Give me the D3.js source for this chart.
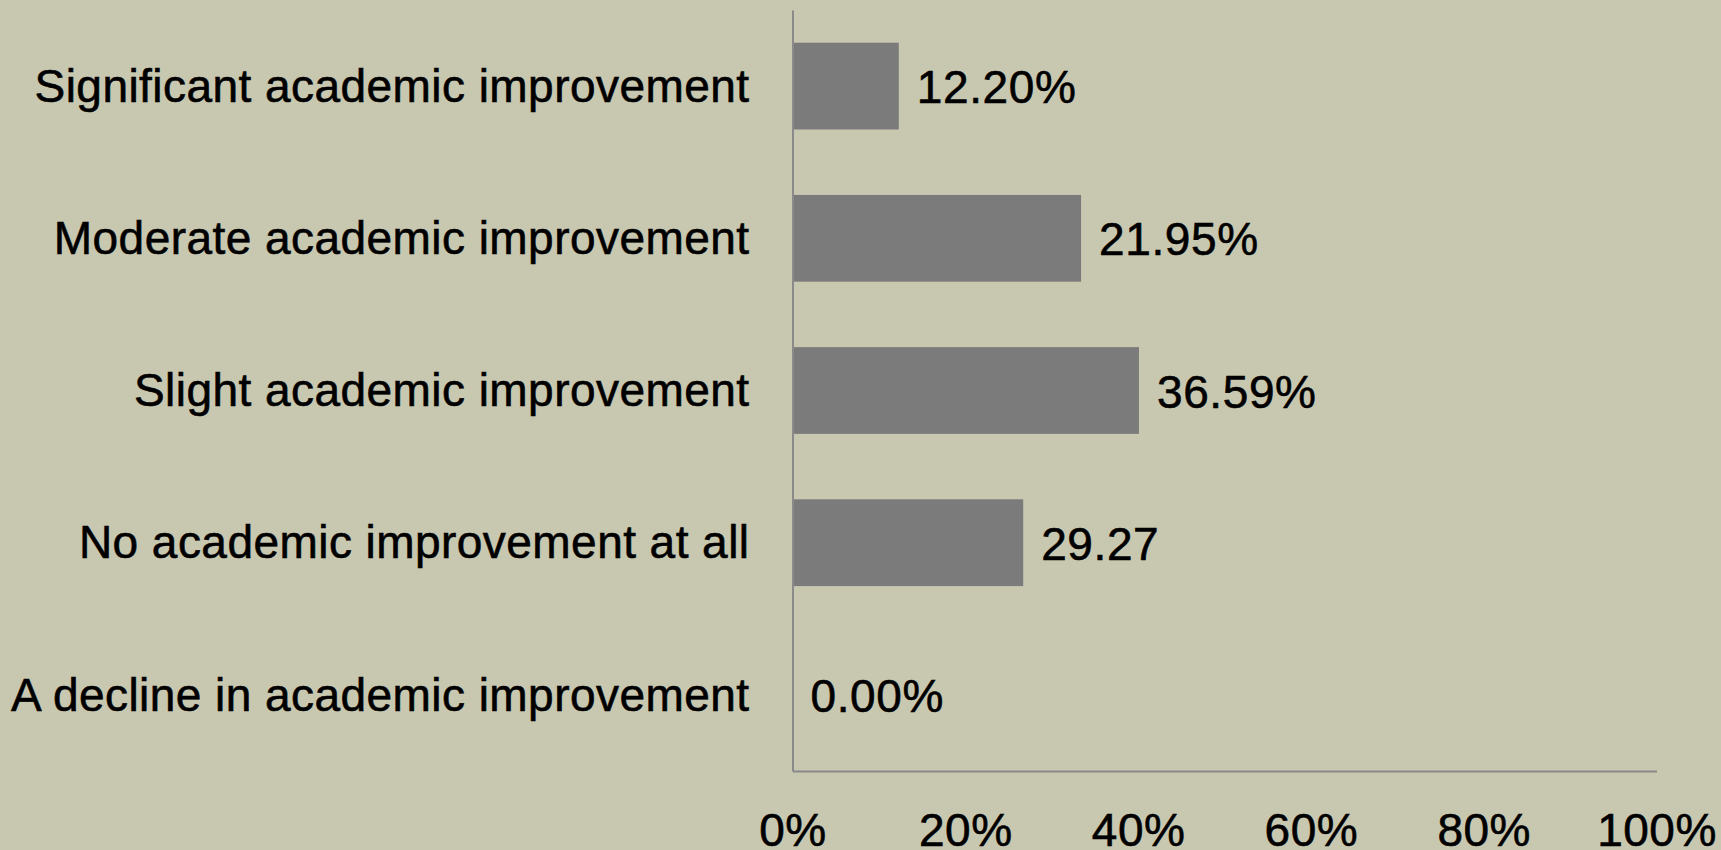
<!DOCTYPE html>
<html>
<head>
<meta charset="utf-8">
<script src="https://cdn.jsdelivr.net/npm/d3@7"></script>
<style>
  body { margin: 0; background: #c8c7b0; overflow: hidden; }
  text { font-family: "Liberation Sans", Arial, sans-serif; fill: #000; stroke: #000; stroke-width: 0.6px; }
</style>
</head>
<body>
<div id="chart"></div>
<script>
// categories, top to bottom
const categories = [
  "Significant academic improvement",
  "Moderate academic improvement",
  "Slight academic improvement",
  "No academic improvement at all",
  "A decline in academic improvement"
];
// bar lengths as drawn in the picture (percent of axis)
const barValues = [12.3, 33.4, 40.1, 26.7, 0];
// labels as printed next to the bars
const valueLabels = ["12.20%", "21.95%", "36.59%", "29.27", "0.00%"];
const xTicks = [0, 20, 40, 60, 80, 100];

const width = 1721, height = 850;

const svg = d3.select("#chart")
  .append("svg")
    .attr("width", width)
    .attr("height", height);

const x = d3.scaleLinear().domain([0, 100]).range([792.5, 1656.5]);
const y = d3.scaleBand().domain(categories).range([10, 771])
  .paddingInner(0.43).paddingOuter(0.215);

// bars
svg.selectAll("rect.bar")
  .data(categories)
  .enter().append("rect")
    .attr("class", "bar")
    .attr("x", x(0) + 1)
    .attr("y", d => y(d))
    .attr("width", (d, i) => Math.max(0, x(barValues[i]) - x(0) - 1))
    .attr("height", y.bandwidth())
    .attr("fill", "#7b7b7b");

// value labels
svg.selectAll("text.val")
  .data(categories)
  .enter().append("text")
    .attr("class", "val")
    .attr("x", (d, i) => x(barValues[i]) + 18)
    .attr("y", d => y(d) + y.bandwidth() / 2 + 17)
    .attr("font-size", "46px")
    .attr("letter-spacing", "0.6px")
    .text((d, i) => valueLabels[i]);

// left axis
const yAxis = svg.append("g")
  .attr("transform", "translate(" + x(0) + ",0)")
  .call(d3.axisLeft(y).tickSize(0).tickSizeOuter(0));
yAxis.select(".domain").attr("stroke", "#8a8a8a").attr("stroke-width", 2);
yAxis.selectAll("text")
  .attr("x", -43)
  .attr("dy", "0.34em")
  .attr("font-size", "46px")
  .attr("letter-spacing", "0.45px")
  .attr("font-family", null)
  .attr("fill", "#000");

// bottom axis
const xAxis = svg.append("g")
  .attr("transform", "translate(0,771)")
  .call(d3.axisBottom(x).tickValues(xTicks).tickSize(0).tickSizeOuter(0)
    .tickFormat(d => d + "%"));
xAxis.select(".domain").attr("stroke", "#8a8a8a").attr("stroke-width", 2);
xAxis.selectAll("text")
  .attr("y", 75)
  .attr("dy", null)
  .attr("font-size", "46px")
  .attr("letter-spacing", "0.5px")
  .attr("font-family", null)
  .attr("fill", "#000");
</script>
</body>
</html>
